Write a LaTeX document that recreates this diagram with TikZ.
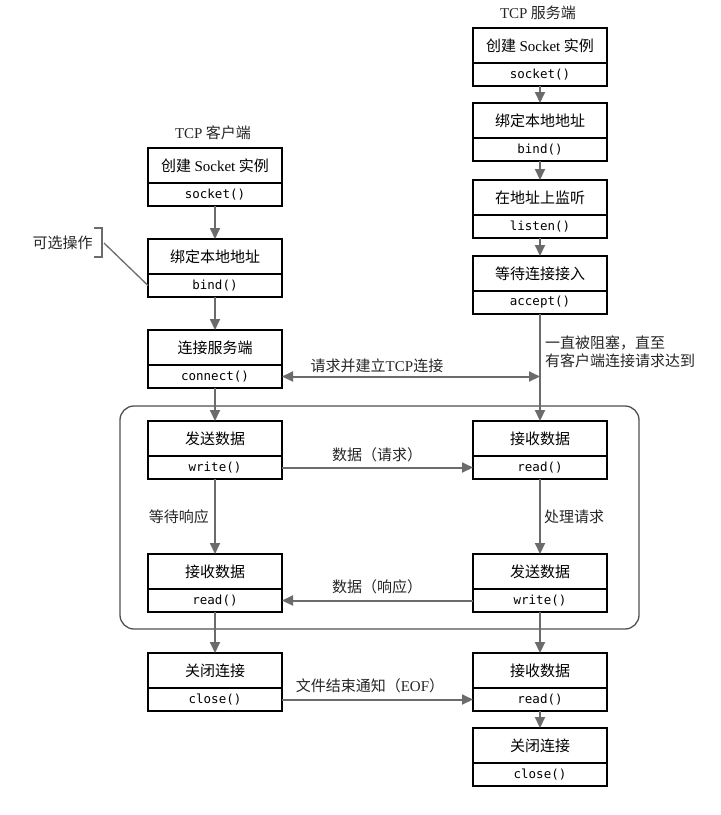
\documentclass[tikz,border=0pt]{standalone}
\usepackage{fontspec}
\setmainfont{Liberation Serif}
\newfontfamily\cjk{Noto Sans CJK SC}
\newfontfamily\monof{DejaVu Sans Mono}
\usetikzlibrary{arrows.meta}
\definecolor{arrgray}{HTML}{6B6B6B}
\definecolor{framegray}{HTML}{505050}
\newcommand\cjkbig{\fontsize{15}{18}\selectfont\cjk}
\newcommand\codef{\fontsize{12.5}{14}\selectfont\monof}
\newcommand\ser[1]{{\rmfamily #1}}
\tikzset{
  upbox/.style={draw=black, line width=1.6pt, minimum width=134pt, minimum height=35pt,
    inner sep=0pt, outer sep=0pt, font=\cjkbig},
  lowbox/.style={draw=black, line width=1.6pt, minimum width=134pt, minimum height=23pt,
    inner sep=0pt, outer sep=0pt, font=\codef},
  flow/.style={draw=arrgray, line width=2pt, -{Triangle[length=11pt,width=10pt]}},
  dflow/.style={draw=arrgray, line width=2pt, {Triangle[length=11pt,width=10pt]}-{Triangle[length=11pt,width=10pt]}},
  lbl/.style={font=\cjkbig, inner sep=0pt, text=black!85},
  thinline/.style={draw=arrgray, line width=1.3pt},
}
\newcommand\tbox[5]{%
  \node[upbox] (#1) at (#2, #3+17.5) {#4};
  \node[lowbox] (#1b) at (#2, #3+35+11.5) {#5};
}
\begin{document}
\begin{tikzpicture}[x=1pt,y=-1pt]
\useasboundingbox (0,0) rectangle (721,815);
% frame
\draw[framegray, line width=1.3pt, rounded corners=14pt] (120,406) rectangle (639,629);
% titles
\node[lbl] (tc) at (213,133) {\ser{TCP} 客户端};
\node[lbl] (ts) at (538,13) {\ser{TCP} 服务端};
% client boxes
\tbox{c1}{215}{148}{创建 \ser{Socket} 实例}{socket()}
\tbox{c2}{215}{239}{绑定本地地址}{bind()}
\tbox{c3}{215}{330}{连接服务端}{connect()}
\tbox{c4}{215}{421}{发送数据}{write()}
\tbox{c5}{215}{554}{接收数据}{read()}
\tbox{c6}{215}{653}{关闭连接}{close()}
% server boxes
\tbox{s1}{540}{28}{创建 \ser{Socket} 实例}{socket()}
\tbox{s2}{540}{103}{绑定本地地址}{bind()}
\tbox{s3}{540}{180}{在地址上监听}{listen()}
\tbox{s4}{540}{256}{等待连接接入}{accept()}
\tbox{s5}{540}{421}{接收数据}{read()}
\tbox{s6}{540}{554}{发送数据}{write()}
\tbox{s7}{540}{653}{接收数据}{read()}
\tbox{s8}{540}{728}{关闭连接}{close()}
% vertical flows client
\draw[flow] (c1b.south) -- (c2.north);
\draw[flow] (c2b.south) -- (c3.north);
\draw[flow] (c3b.south) -- (c4.north);
\draw[flow] (c4b.south) -- (c5.north);
\draw[flow] (c5b.south) -- (c6.north);
% vertical flows server
\draw[flow] (s1b.south) -- (s2.north);
\draw[flow] (s2b.south) -- (s3.north);
\draw[flow] (s3b.south) -- (s4.north);
\draw[flow] (s4b.south) -- (s5.north);
\draw[flow] (s5b.south) -- (s6.north);
\draw[flow] (s6b.south) -- (s7.north);
\draw[flow] (s7b.south) -- (s8.north);
% horizontal flows
\coordinate (m) at (s4b.south |- c3b.east);
\draw[dflow] (c3b.east) -- (m);
\draw[flow] (c4b.east) -- (s5b.west);
\draw[flow] (s6b.west) -- (c5b.east);
\draw[flow] (c6b.east) -- (s7b.west);
% labels
\node[lbl] (l1) at (377,366) {请求并建立\ser{TCP}连接};
\node[lbl] (l2) at (377,455) {数据（请求）};
\node[lbl] (l3) at (377,587) {数据（响应）};
\node[lbl] (l4) at (370,686) {文件结束通知（\ser{EOF}）};
\node[lbl, anchor=east] (l5) at (209,517) {等待响应};
\node[lbl, anchor=west] (l6) at (544,517) {处理请求};
\node[lbl, anchor=west, align=left] (l7) at (545,352) {一直被阻塞，直至\\有客户端连接请求达到};
% optional note
\node[lbl] (opt) at (62.5,243) {可选操作};
\draw[thinline] (94,228) -- (102,228) -- (102,257) -- (94,257);
\coordinate (br) at (104,243);
\draw[thinline] (br) -- (c2b.west);
\end{tikzpicture}
\end{document}
